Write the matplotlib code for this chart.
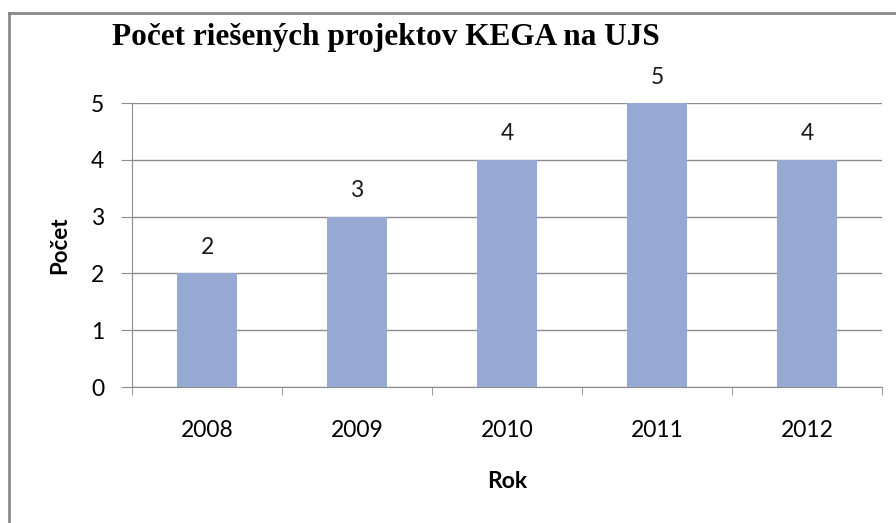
import matplotlib
matplotlib.use("Agg")
import matplotlib.pyplot as plt
from matplotlib.lines import Line2D

# data
years = ["2008", "2009", "2010", "2011", "2012"]
counts = [2, 3, 4, 5, 4]

title = "Počet riešených projektov KEGA na UJS"
xlabel = "Rok"
ylabel = "Počet"

plt.rcParams['font.family'] = ['Lato', 'DejaVu Sans']

fig = plt.figure(figsize=(8.96, 5.23), dpi=100)
W, H = 896, 523

# plot area in pixel coords: x 132..882, y 103..387
ax = fig.add_axes([132 / W, 1 - 387 / H, 750 / W, 284 / H])

pos = list(range(len(years)))
ax.bar(pos, counts, width=0.4, color="#95A9D2", zorder=3)
for p, c in zip(pos, counts):
    ax.text(p, c + 0.27, str(c), ha="center", va="bottom", fontsize=16.5, color="#1a1a1a")

ax.set_xlim(-0.5, len(years) - 0.5)
ax.set_ylim(0, 5)
ax.set_yticks(range(0, 6))
ax.yaxis.grid(True, color="#8c8c8c", linewidth=1.0, zorder=0)
ax.set_xticks(pos)
ax.set_xticklabels(years)
ax.tick_params(axis="x", length=0, pad=24, labelsize=16.5)
ax.tick_params(axis="y", length=8, pad=12, labelsize=16.5, color="#8c8c8c")
# x boundary ticks between categories
ax.set_xticks([p - 0.5 for p in pos] + [len(years) - 0.5], minor=True)
ax.tick_params(axis="x", which="minor", length=6, color="#8c8c8c", direction="out")

for s in ["top", "right"]:
    ax.spines[s].set_visible(False)
for s in ["left", "bottom"]:
    ax.spines[s].set_color("#8c8c8c")

fig.text(60 / W, 1 - 245 / H, ylabel, rotation=90, ha="center", va="center",
         fontsize=16, fontweight="bold")
fig.text(507 / W, 1 - 482 / H, xlabel, ha="center", va="center",
         fontsize=16.5, fontweight="bold")
fig.text(112 / W, 1 - 37 / H, title, ha="left", va="center",
         fontsize=22.5, fontweight="bold", family=["Liberation Serif", "DejaVu Serif"])

# figure border (top and left visible, rest cropped)
fig.add_artist(Line2D([9 / W, 9 / W], [0, 1 - 13 / H], transform=fig.transFigure,
                      color="#8a8a8a", linewidth=2))
fig.add_artist(Line2D([9 / W, 1], [1 - 13 / H, 1 - 13 / H], transform=fig.transFigure,
                      color="#8a8a8a", linewidth=2))

fig.savefig("out.png", dpi=100)
